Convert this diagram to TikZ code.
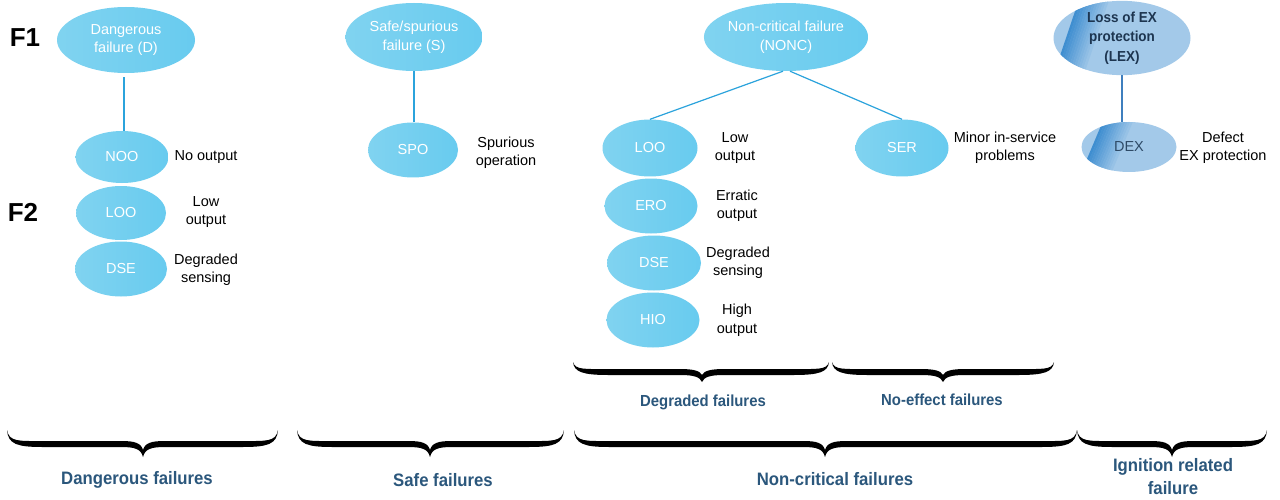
\documentclass[tikz,border=0pt]{standalone}
\usepackage{fontspec}
\setmainfont{Liberation Sans}
\newfontfamily\lblfont[FakeStretch=0.93]{Liberation Sans}
\usetikzlibrary{shapes.geometric}

\definecolor{nodelight}{HTML}{80D3F0}
\definecolor{nodedeep}{HTML}{68CBEF}
\definecolor{connblue}{HTML}{2BA3DC}
\definecolor{lexfill}{HTML}{A3C9E9}
\definecolor{lexdark}{HTML}{3F8ED0}
\definecolor{lextext}{HTML}{1D3550}
\definecolor{dextext}{HTML}{2E4A66}
\definecolor{lexline}{HTML}{3F7FBE}
\definecolor{groupblue}{HTML}{2B577C}

% horizontal curly brace, opening upwards: x-left, x-right, x-tip, y-ends, y-bar, y-tip
\newcommand\curlybrace[6]{%
  \fill[black] (#1,#4)
    .. controls ({#1+1},{#5}) and ({#1+10},{#5+3}) .. ({#1+35},{#5+3})
    -- ({#3-22},{#5+3})
    .. controls ({#3-8},{#5+3}) and ({#3-2},{#5+5}) .. (#3,#6)
    .. controls ({#3+2},{#5+5}) and ({#3+8},{#5+3}) .. ({#3+22},{#5+3})
    -- ({#2-35},{#5+3})
    .. controls ({#2-10},{#5+3}) and ({#2-1},{#5}) .. (#2,#4)
    .. controls ({#2-2},{#5-2}) and ({#2-12},{#5-3}) .. ({#2-35},{#5-3})
    -- ({#3+22},{#5-3})
    .. controls ({#3+8},{#5-3}) and ({#3+2},{#5-1}) .. (#3,{#6-7})
    .. controls ({#3-2},{#5-1}) and ({#3-8},{#5-3}) .. ({#3-22},{#5-3})
    -- ({#1+35},{#5-3})
    .. controls ({#1+12},{#5-3}) and ({#1+2},{#5-2}) .. (#1,#4) -- cycle;}

\tikzset{
  mode/.style={ellipse, inner sep=0pt, left color=nodelight, right color=nodedeep,
    text=white, align=center, font=\fontsize{14.5}{18.5}\selectfont},
  lexmode/.style={ellipse, inner sep=0pt, fill=lexfill, align=center,
    path picture={
      \foreach \i in {0,...,11}{
        \fill[lexdark!\the\numexpr 100-\i*8\relax!lexfill]
          ([xshift=#1pt+\i*2.5pt]path picture bounding box.north west) -- ++(2.8pt,0)
          -- ([xshift=\i*2.5pt+2.8pt]path picture bounding box.south west) -- ++(-2.8pt,0) -- cycle;}
    }},
  desc/.style={align=center, text=black, font=\fontsize{14.5}{18.5}\selectfont},
  grouplabel/.style={align=center, text=groupblue, font=\lblfont\bfseries\fontsize{18}{23}\selectfont},
  subgrouplabel/.style={align=center, text=groupblue, font=\lblfont\bfseries\fontsize{16}{20}\selectfont},
  level/.style={font=\bfseries\fontsize{26}{30}\selectfont, text=black},
  conn/.style={draw=connblue, line width=1.2pt},
}

\begin{document}
\begin{tikzpicture}[x=1pt, y=-1pt]
\useasboundingbox (0,0) rectangle (1280,500);
\fill[white] (0,0) rectangle (1280,500);

% level markers
\node[level] (F1) at (25,38) {F1};
\node[level] (F2) at (23,212) {F2};

% F1 failure classes
\node[mode, minimum width=138pt, minimum height=66pt] (D) at (126,40) {Dangerous\\failure (D)};
\node[mode, minimum width=137pt, minimum height=68pt] (S) at (414,37) {Safe/spurious\\failure (S)};
\node[mode, minimum width=138pt, minimum height=68pt] (NONC) at (786,37) {Non-critical failure\\(NONC)};
\node[lexmode=25, minimum width=137pt, minimum height=70pt, text=lextext,
      font=\lblfont\bfseries\fontsize{14.5}{19.5}\selectfont] (LEX) at (1122,38) {Loss of EX\\protection\\(LEX)};

% F2 failure modes
\node[mode, minimum width=93pt, minimum height=52pt] (NOO) at (122,157) {NOO};
\node[mode, minimum width=90pt, minimum height=54pt] (LOOa) at (121,213) {LOO};
\node[mode, minimum width=92pt, minimum height=55pt] (DSEa) at (121,269) {DSE};
\node[mode, minimum width=90pt, minimum height=55pt] (SPO) at (413,150) {SPO};
\node[mode, minimum width=95pt, minimum height=57pt] (LOOb) at (650,148) {LOO};
\node[mode, minimum width=93pt, minimum height=55pt] (ERO) at (651,206) {ERO};
\node[mode, minimum width=94pt, minimum height=55pt] (DSEb) at (654,263) {DSE};
\node[mode, minimum width=93pt, minimum height=55pt] (HIO) at (653,320) {HIO};
\node[mode, minimum width=93pt, minimum height=57pt] (SER) at (902,148) {SER};
\node[lexmode=21, minimum width=95pt, minimum height=50pt, text=dextext,
      font=\fontsize{14.5}{18.5}\selectfont] (DEX) at (1129,147) {DEX};

% descriptions
\node[desc] (tNOO) at (206,157) {No output};
\node[desc] (tLOOa) at (206,212) {Low\\output};
\node[desc] (tDSEa) at (206,270) {Degraded\\sensing};
\node[desc] (tSPO) at (506,153) {Spurious\\operation};
\node[desc] (tLOOb) at (735,148) {Low\\output};
\node[desc] (tERO) at (737,206) {Erratic\\output};
\node[desc] (tDSEb) at (738,263) {Degraded\\sensing};
\node[desc] (tHIO) at (737,320) {High\\output};
\node[desc] (tSER) at (1005,148) {Minor in-service\\problems};
\node[desc] (tDEX) at (1223,148) {Defect\\EX protection};

% connectors
\draw[conn, shorten <=4pt] ([xshift=-2pt]D.south) -- ([xshift=-2pt]D.south |- NOO.north);
\draw[conn] (S.south) -- (S.south |- SPO.north);
\draw[conn] ([xshift=-3pt]NONC.south) -- (LOOb.north);
\draw[conn] ([xshift=4pt]NONC.south) -- (SER.north);
\draw[draw=lexline, line width=1.2pt] (LEX.south) -- (LEX.south |- DEX.north);

% grouping braces
\curlybrace{573}{829}{702}{362}{372}{382}
\curlybrace{832}{1054}{943}{362}{372}{382}
\curlybrace{7}{278}{143}{430}{444}{457}
\curlybrace{297}{564}{430}{430}{444}{457}
\curlybrace{574}{1077}{825}{430}{444}{457}
\curlybrace{1077}{1267}{1172}{430}{444}{457}

% group labels
\node[subgrouplabel] (gDeg) at (703,402) {Degraded failures};
\node[subgrouplabel] (gNoe) at (942,400) {No-effect failures};
\node[grouplabel] (gDang) at (137,480) {Dangerous failures};
\node[grouplabel] (gSafe) at (443,480) {Safe failures};
\node[grouplabel] (gNonc) at (835,479) {Non-critical failures};
\node[grouplabel] (gIgn) at (1173,477) {Ignition related\\failure};
\end{tikzpicture}
\end{document}
